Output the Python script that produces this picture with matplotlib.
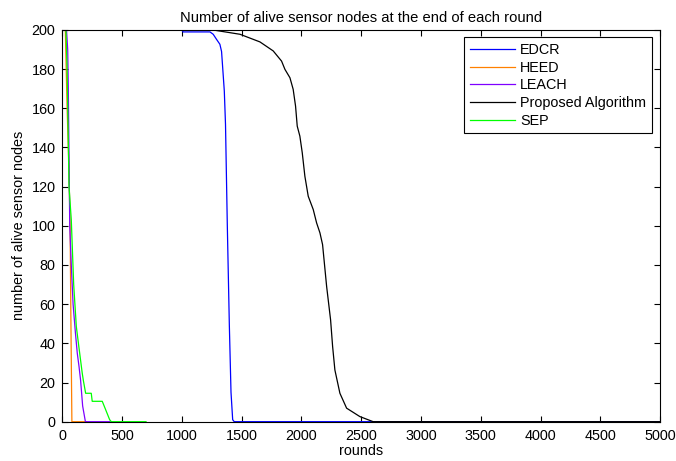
import matplotlib

matplotlib.use("Agg")
import matplotlib.pyplot as plt

plt.rcParams["font.family"] = ["Liberation Sans", "DejaVu Sans"]

# rounds / alive nodes per protocol
edcr_r = [0, 1000, 1010, 1235, 1262, 1290, 1318, 1332, 1355, 1365, 1380, 1397, 1411, 1425, 1438, 5000]
edcr_n = [200, 200, 199, 199, 197.8, 195.2, 192.7, 189, 168.8, 151.8, 100.6, 49.5, 15, 1, 0, 0]

heed_r = [0, 25, 40, 55, 65, 72, 80, 200]
heed_n = [200, 200, 160, 130, 100, 50, 0, 0]

leach_r = [0, 35, 45, 50, 62, 75, 90, 110, 125, 140, 153, 170, 193, 400]
leach_n = [200, 200, 190, 170, 100, 80, 60, 45, 35, 28, 21, 8, 0, 0]

prop_r = [0, 1260, 1486, 1653, 1764, 1834, 1862, 1904, 1931, 1951, 1965, 1987, 2007, 2029,
          2057, 2099, 2127, 2155, 2177, 2211, 2244, 2261, 2280, 2322, 2378, 2489, 2600, 5000]
prop_n = [200, 200, 197.8, 193.9, 189.3, 184.1, 179.9, 175.6, 169.7, 161.1, 150.9, 145.8, 137.3, 125.3,
          115.1, 108.3, 101.5, 96.4, 90.4, 69, 52, 38.4, 26.4, 14.5, 6.9, 2.6, 0, 0]

sep_r = [0, 30, 40, 56, 75, 95, 117, 138, 166, 176, 195, 242, 250, 334, 350, 396, 410, 700]
sep_n = [200, 200, 180, 120, 103, 70, 48.6, 38.4, 25, 21, 14.5, 14.5, 10.4, 10.4, 8, 1, 0, 0]

fig = plt.figure(figsize=(6.76, 4.61), dpi=100)
ax = fig.add_axes([0.0922, 0.0853, 0.8842, 0.8497])

ax.plot(edcr_r, edcr_n, color="#0000ff", lw=0.9, label="EDCR")
ax.plot(heed_r, heed_n, color="#ff8000", lw=0.9, label="HEED")
ax.plot(leach_r, leach_n, color="#7f00ff", lw=0.9, label="LEACH")
ax.plot(prop_r, prop_n, color="black", lw=0.9, label="Proposed Algorithm")
ax.plot(sep_r, sep_n, color="#00ff00", lw=0.9, label="SEP")

ax.set_xlim(0, 5000)
ax.set_ylim(0, 200)
ax.set_xticks(range(0, 5001, 500))
ax.set_yticks(range(0, 201, 20))
ax.tick_params(direction="in", top=True, right=True, labelsize=10.4, length=4, pad=5)
ax.set_xlabel("rounds", fontsize=10.4, labelpad=1)
ax.set_ylabel("number of alive sensor nodes", fontsize=10.4, labelpad=4)
ax.set_title("Number of alive sensor nodes at the end of each round", fontsize=10.6)

leg = ax.legend(loc="upper right", fontsize=10.4, fancybox=False, framealpha=1,
                edgecolor="black", handlelength=3.1, handletextpad=0.35,
                borderpad=0.4, labelspacing=0.25, borderaxespad=0,
                bbox_to_anchor=(0.986, 0.981))
leg.get_frame().set_linewidth(0.8)

fig.savefig("out.png", dpi=100)
